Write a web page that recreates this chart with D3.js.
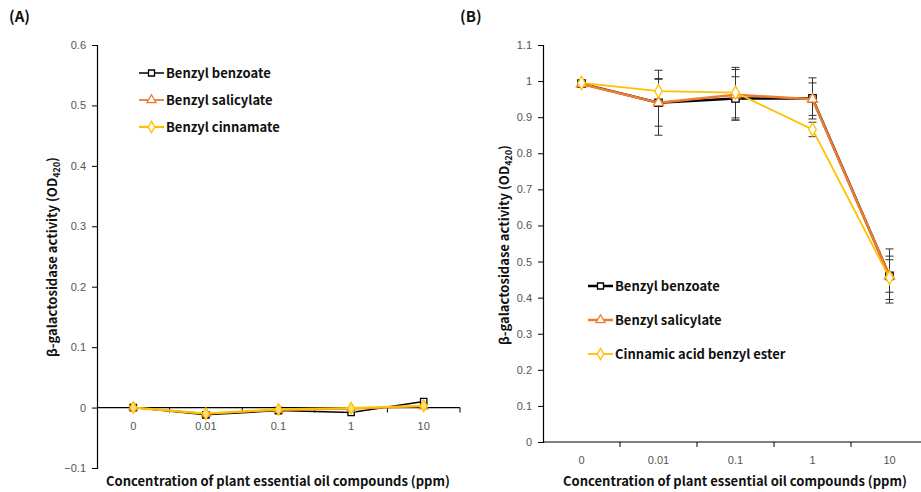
<!DOCTYPE html>
<html>
<head>
<meta charset="utf-8">
<script src="https://cdn.jsdelivr.net/npm/d3@7"></script>
<style>
  body { margin: 0; background: #fff; }
  svg { display: block; }
  text { font-family: "Noto Sans CJK KR", "Noto Sans", sans-serif; }
</style>
</head>
<body>
<svg id="chart" width="921" height="492"></svg>
<script>
// Concentrations shown on the category axis
const concentrations = ["0", "0.01", "0.1", "1", "10"];

// Panel A values (OD420)
const aBenzoate   = [0, -0.012, -0.005, -0.008, 0.010];
const aSalicylate = [0, -0.010, -0.004, -0.002, 0.002];
const aCinnamate  = [0, -0.010, -0.003, -0.001, 0.003];
const aNames = ["Benzyl benzoate", "Benzyl salicylate", "Benzyl cinnamate"];
const aTicks = [-0.1, 0, 0.1, 0.2, 0.3, 0.4, 0.5, 0.6];

// Panel B values (OD420) with standard deviations
const bBenzoate      = [0.993, 0.940, 0.952, 0.952, 0.460];
const bBenzoateErr   = [0.005, 0.090, 0.060, 0.057, 0.075];
const bSalicylate    = [0.992, 0.940, 0.962, 0.950, 0.460];
const bSalicylateErr = [0.005, 0.065, 0.070, 0.045, 0.045];
const bCinnamic      = [0.995, 0.972, 0.968, 0.866, 0.455];
const bCinnamicErr   = [0.005, 0.035, 0.070, 0.020, 0.060];
const bNames = ["Benzyl benzoate", "Benzyl salicylate", "Cinnamic acid benzyl ester"];
const bTicks = [0, 0.1, 0.2, 0.3, 0.4, 0.5, 0.6, 0.7, 0.8, 0.9, 1, 1.1];

const colors = ["#000000", "#ED7D31", "#FFC000"];
const markers = ["square", "triangle", "diamond"];

const svg = d3.select("#chart");

function markerPath(type, size) {
  const sym = type === "square" ? d3.symbolSquare : type === "triangle" ? d3.symbolTriangle : d3.symbolDiamond;
  return d3.symbol().type(sym).size(size)();
}

function yTitle(g, x, y) {
  const t = g.append("text")
    .attr("transform", `translate(${x},${y}) rotate(-90)`)
    .attr("text-anchor", "middle")
    .attr("font-size", 13).attr("font-weight", "bold").attr("fill", "#111");
  t.append("tspan").text("β-galactosidase activity (OD");
  t.append("tspan").attr("font-size", 9).attr("dy", 3).text("420");
  t.append("tspan").attr("dy", -3).text(")");
}

function drawPanel(opt) {
  const g = svg.append("g");
  const x = d3.scaleBand().domain(concentrations).range([opt.x0, opt.x1]);
  const y = d3.scaleLinear().domain(opt.yDomain).range([opt.yBottom, opt.yTop]);

  // y axis
  const yAxis = d3.axisLeft(y).tickValues(opt.yTicks).tickSize(5).tickPadding(6)
    .tickFormat(d => d3.format("")(+d.toFixed(1)));
  const ya = g.append("g").attr("transform", `translate(${opt.x0},0)`).call(yAxis);
  ya.select(".domain").attr("stroke", "#000").attr("stroke-width", 1.2);
  ya.selectAll(".tick line").attr("stroke", "#000");
  ya.selectAll(".tick text").attr("font-size", 11).attr("fill", "#555")
    .style("font-family", "'Liberation Sans', Arial, sans-serif");

  // x axis line along y = 0 with tick marks at category boundaries
  const y0 = y(0);
  g.append("line").attr("x1", opt.x0).attr("x2", opt.x1).attr("y1", y0).attr("y2", y0)
    .attr("stroke", "#000").attr("stroke-width", 1.2);
  const bounds = concentrations.map(c => x(c)).concat([opt.x1]).slice(1);
  g.selectAll(".xt").data(bounds).join("line")
    .attr("x1", d => d).attr("x2", d => d).attr("y1", y0).attr("y2", y0 + 5)
    .attr("stroke", "#000");
  g.selectAll(".xl").data(concentrations).join("text")
    .attr("x", d => x(d) + x.bandwidth() / 2).attr("y", opt.xLabelY)
    .attr("text-anchor", "middle").attr("font-size", 11).attr("fill", "#555")
    .style("font-family", "'Liberation Sans', Arial, sans-serif")
    .text(d => d);

  // error bars
  opt.series.forEach((s) => {
    if (!s.err) return;
    s.values.forEach((v, i) => {
      const cx = x(concentrations[i]) + x.bandwidth() / 2;
      const lo = y(v - s.err[i]), hi = y(v + s.err[i]);
      g.append("line").attr("x1", cx).attr("x2", cx).attr("y1", lo).attr("y2", hi)
        .attr("stroke", "#333").attr("stroke-width", 1);
      [lo, hi].forEach(yy => g.append("line").attr("x1", cx - 4).attr("x2", cx + 4)
        .attr("y1", yy).attr("y2", yy).attr("stroke", "#333").attr("stroke-width", 1));
    });
  });

  // series lines and markers
  const line = d3.line().x((d, i) => x(concentrations[i]) + x.bandwidth() / 2).y(d => y(d));
  opt.series.forEach((s) => {
    g.append("path").datum(s.values).attr("d", line)
      .attr("fill", "none").attr("stroke", s.color).attr("stroke-width", s.width);
    g.selectAll(null).data(s.values).join("path")
      .attr("transform", (d, i) => `translate(${x(concentrations[i]) + x.bandwidth() / 2},${y(d)})`)
      .attr("d", markerPath(s.marker, s.msize))
      .attr("fill", s.fill).attr("stroke", s.color).attr("stroke-width", 1.3);
  });

  // legend
  opt.series.forEach((s, i) => {
    const ly = opt.legendY[i];
    g.append("line").attr("x1", opt.legendX).attr("x2", opt.legendX + 25).attr("y1", ly).attr("y2", ly)
      .attr("stroke", s.color).attr("stroke-width", s.width);
    g.append("path").attr("transform", `translate(${opt.legendX + 12.5},${ly})`)
      .attr("d", markerPath(s.marker, 36)).attr("fill", "#fff").attr("stroke", s.color).attr("stroke-width", 1.3);
    g.append("text").attr("x", opt.legendX + 27).attr("y", ly + 4.5)
      .attr("font-size", 13).attr("font-weight", "bold").attr("fill", "#111").text(opt.names[i]);
  });

  // titles
  g.append("text").attr("x", opt.xTitleX).attr("y", 486).attr("text-anchor", "middle")
    .attr("font-size", 13).attr("font-weight", "bold").attr("fill", "#111")
    .text("Concentration of plant essential oil compounds (ppm)");
  yTitle(g, opt.yTitleX, opt.yTitleY);
  g.append("text").attr("x", opt.tagX).attr("y", 22).attr("font-size", 15).attr("font-weight", "bold")
    .attr("fill", "#111").text(opt.tag);
}

drawPanel({
  x0: 97, x1: 460, yDomain: [-0.1, 0.6], yBottom: 468, yTop: 45, yTicks: aTicks,
  xLabelY: 430, xTitleX: 278, yTitleX: 57, yTitleY: 257, tagX: 9, tag: "(A)",
  legendX: 139, legendY: [73, 100, 127], names: aNames,
  series: [
    { values: aBenzoate, color: colors[0], marker: markers[0], width: 1.5, msize: 40, fill: "#fff" },
    { values: aSalicylate, color: colors[1], marker: markers[1], width: 1.8, msize: 30, fill: "#fff" },
    { values: aCinnamate, color: colors[2], marker: markers[2], width: 2.2, msize: 40, fill: "#FFE27A" }
  ]
});

drawPanel({
  x0: 543, x1: 928, yDomain: [0, 1.1], yBottom: 442, yTop: 45, yTicks: bTicks,
  xLabelY: 464, xTitleX: 735, yTitleX: 509, yTitleY: 245, tagX: 460, tag: "(B)",
  legendX: 588, legendY: [286, 320, 354], names: bNames,
  series: [
    { values: bBenzoate, err: bBenzoateErr, color: colors[0], marker: markers[0], width: 2.5, msize: 55, fill: "#fff" },
    { values: bSalicylate, err: bSalicylateErr, color: colors[1], marker: markers[1], width: 2.5, msize: 45, fill: "#fff" },
    { values: bCinnamic, err: bCinnamicErr, color: colors[2], marker: markers[2], width: 1.8, msize: 50, fill: "#fff" }
  ]
});
</script>
</body>
</html>
